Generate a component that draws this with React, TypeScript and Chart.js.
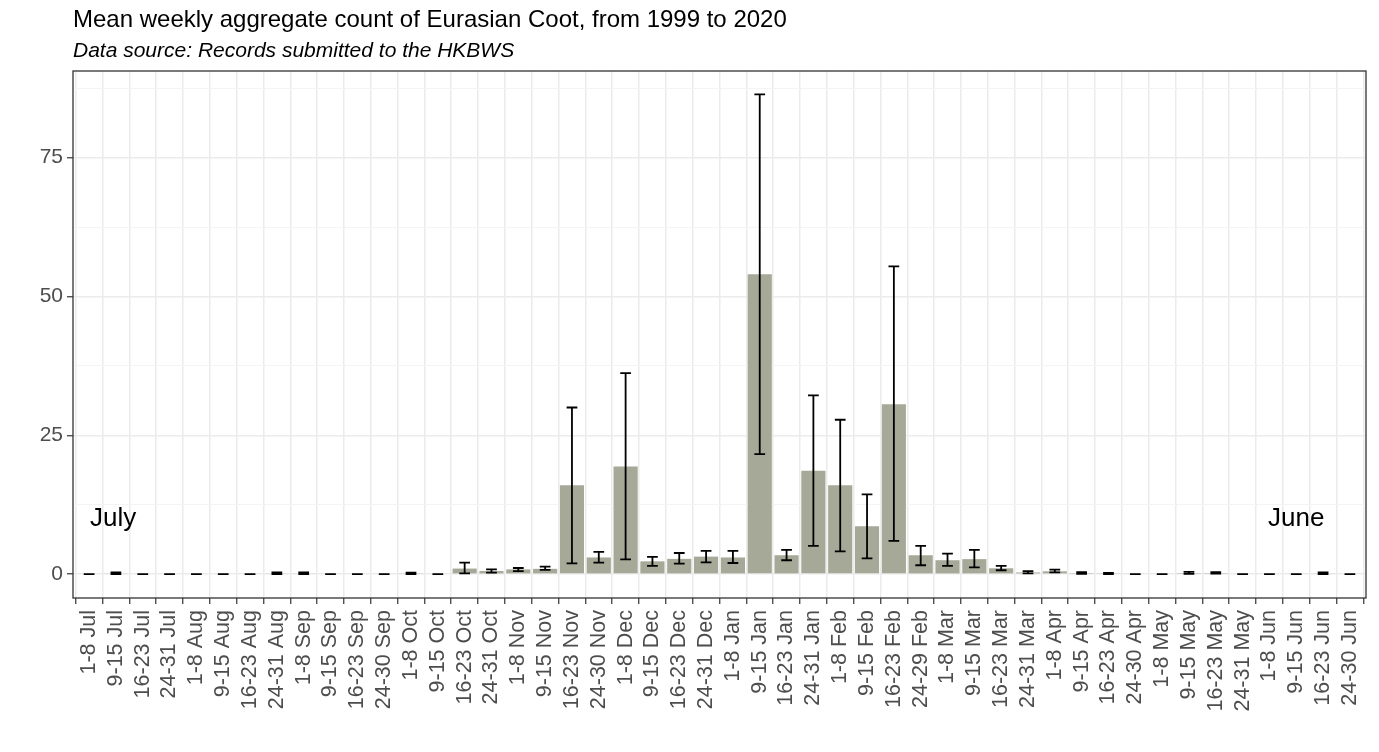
import React, { useEffect, useRef } from "react";
import { Chart, registerables } from "chart.js";

Chart.register(...registerables);

const categories = [
  "1-8 Jul", "9-15 Jul", "16-23 Jul", "24-31 Jul",
  "1-8 Aug", "9-15 Aug", "16-23 Aug", "24-31 Aug",
  "1-8 Sep", "9-15 Sep", "16-23 Sep", "24-30 Sep",
  "1-8 Oct", "9-15 Oct", "16-23 Oct", "24-31 Oct",
  "1-8 Nov", "9-15 Nov", "16-23 Nov", "24-30 Nov",
  "1-8 Dec", "9-15 Dec", "16-23 Dec", "24-31 Dec",
  "1-8 Jan", "9-15 Jan", "16-23 Jan", "24-31 Jan",
  "1-8 Feb", "9-15 Feb", "16-23 Feb", "24-29 Feb",
  "1-8 Mar", "9-15 Mar", "16-23 Mar", "24-31 Mar",
  "1-8 Apr", "9-15 Apr", "16-23 Apr", "24-30 Apr",
  "1-8 May", "9-15 May", "16-23 May", "24-31 May",
  "1-8 Jun", "9-15 Jun", "16-23 Jun", "24-30 Jun",
];

const means = [
  0, 0.15, 0, 0,
  0, 0, 0, 0.15,
  0.15, 0, 0, 0,
  0.1, 0, 1.0, 0.55,
  0.85, 0.95, 16.0, 3.0,
  19.4, 2.3, 2.75, 3.15,
  3.0, 54.0, 3.4, 18.6,
  16.0, 8.6, 30.6, 3.4,
  2.5, 2.7, 1.05, 0.3,
  0.5, 0.2, 0.1, 0,
  0, 0.2, 0.2, 0,
  0, 0, 0.15, 0,
];

const lowers = [
  0, 0, 0, 0,
  0, 0, 0, 0,
  0, 0, 0, 0,
  0, 0, 0.15, 0.27,
  0.55, 0.75, 1.95, 2.07,
  2.67, 1.47, 1.9, 2.1,
  2.0, 21.6, 2.5, 5.1,
  4.1, 2.85, 5.97, 1.6,
  1.47, 1.2, 0.7, 0.15,
  0.3, 0.05, 0, 0,
  0, 0.05, 0.1, 0,
  0, 0, 0.02, 0,
];

const uppers = [
  0, 0.3, 0, 0,
  0, 0, 0, 0.3,
  0.3, 0, 0, 0,
  0.25, 0, 2.07, 0.87,
  1.1, 1.35, 30.0, 4.0,
  36.2, 3.1, 3.8, 4.17,
  4.17, 86.4, 4.35, 32.2,
  27.8, 14.35, 55.4, 5.1,
  3.7, 4.35, 1.47, 0.55,
  0.8, 0.35, 0.2, 0,
  0, 0.4, 0.35, 0,
  0, 0, 0.3, 0,
];

const yMajorTicks = [0, 25, 50, 75];
const yMinorTicks = [12.5, 37.5, 62.5, 87.5];

const noteTexts = ["July", "June"];
const noteX = [0.9, 45];
const noteY = [10, 10];

const titleText = "Mean weekly aggregate count of Eurasian Coot, from 1999 to 2020";
const subtitleText = "Data source: Records submitted to the HKBWS";

const FONT = '"Liberation Sans", Arial, Helvetica, sans-serif';

export default function App() {
  const ref = useRef<HTMLCanvasElement>(null);

  useEffect(() => {
    const canvas = ref.current;
    if (!canvas) return;

    const errorBars = {
      id: "errorBars",
      afterDatasetsDraw(chart: any) {
        const { ctx } = chart;
        const xs = chart.scales.x;
        const ys = chart.scales.y;
        const step = xs.getPixelForValue(1) - xs.getPixelForValue(0);
        const half = step * 0.2;
        ctx.save();
        ctx.strokeStyle = "#000000";
        ctx.lineWidth = 1.8;
        ctx.lineCap = "butt";
        means.forEach((_, i) => {
          const px = xs.getPixelForValue(i);
          const lo = ys.getPixelForValue(lowers[i]);
          const hi = ys.getPixelForValue(uppers[i]);
          ctx.beginPath();
          ctx.moveTo(px, lo);
          ctx.lineTo(px, hi);
          ctx.moveTo(px - half, lo);
          ctx.lineTo(px + half, lo);
          ctx.moveTo(px - half, hi);
          ctx.lineTo(px + half, hi);
          ctx.stroke();
        });
        ctx.restore();
      },
    };

    const frame = {
      id: "frame",
      beforeDraw(chart: any) {
        const { ctx } = chart;
        ctx.save();
        ctx.fillStyle = "#ffffff";
        ctx.fillRect(0, 0, chart.width, chart.height);
        ctx.restore();
      },
      afterDraw(chart: any) {
        const { ctx, chartArea } = chart;
        const xs = chart.scales.x;
        const ys = chart.scales.y;
        ctx.save();
        ctx.strokeStyle = "#333333";
        ctx.lineWidth = 1.3;
        ctx.strokeRect(
          chartArea.left,
          chartArea.top,
          chartArea.right - chartArea.left,
          chartArea.bottom - chartArea.top
        );
        ctx.fillStyle = "#000000";
        ctx.textAlign = "left";
        ctx.textBaseline = "alphabetic";
        ctx.font = `24px ${FONT}`;
        ctx.fillText(titleText, chartArea.left, 27);
        ctx.font = `italic 21px ${FONT}`;
        ctx.fillText(subtitleText, chartArea.left, 57);
        ctx.font = `26px ${FONT}`;
        ctx.textAlign = "center";
        ctx.textBaseline = "middle";
        noteTexts.forEach((t, i) => {
          ctx.fillText(t, xs.getPixelForValue(noteX[i]), ys.getPixelForValue(noteY[i]));
        });
        ctx.restore();
      },
    };

    const chart = new Chart(canvas, {
      type: "bar",
      data: {
        datasets: [
          {
            data: means.map((v, i) => ({ x: i, y: v })),
            backgroundColor: "#A6A898",
            borderWidth: 0,
            barPercentage: 0.9,
            categoryPercentage: 1,
          },
        ],
      },
      options: {
        animation: false,
        responsive: false,
        layout: {
          padding: { top: 71, right: 13, left: 0, bottom: 0 },
          autoPadding: false,
        },
        plugins: {
          legend: { display: false },
          tooltip: { enabled: false },
          title: { display: false },
        },
        scales: {
          x: {
            type: "linear",
            min: -0.6,
            max: 47.6,
            bounds: "data",
            offset: false,
            afterBuildTicks: (s: any) => {
              s.ticks = categories.map((_, i) => ({ value: i }));
            },
            afterFit: (s: any) => {
              s.height = 154;
              s.paddingLeft = 0;
              s.paddingRight = 0;
            },
            ticks: {
              autoSkip: false,
              minRotation: 90,
              maxRotation: 90,
              padding: 6,
              color: "#4D4D4D",
              font: { family: FONT, size: 21.5 },
              callback: (v: any) => categories[Math.round(Number(v))] ?? "",
            },
            grid: {
              color: "#EBEBEB",
              lineWidth: 1.5,
              tickColor: "#333333",
              tickLength: 6,
              tickWidth: 1.2,
            },
            border: { display: false },
          },
          y: {
            type: "linear",
            min: -4.3,
            max: 90.6,
            bounds: "data",
            afterBuildTicks: (s: any) => {
              s.ticks = [...yMajorTicks, ...yMinorTicks]
                .sort((a, b) => a - b)
                .map((v) => ({ value: v }));
            },
            afterFit: (s: any) => {
              s.width = 73;
              s.paddingTop = 0;
              s.paddingBottom = 0;
            },
            ticks: {
              padding: 4,
              color: "#4D4D4D",
              font: { family: FONT, size: 21 },
              callback: (v: any) => (yMajorTicks.includes(Number(v)) ? String(v) : ""),
            },
            grid: {
              color: (c: any) =>
                c.tick && yMajorTicks.includes(c.tick.value) ? "#EBEBEB" : "#F4F4F4",
              lineWidth: (c: any) =>
                c.tick && yMajorTicks.includes(c.tick.value) ? 1.5 : 1,
              tickColor: (c: any) =>
                c.tick && yMajorTicks.includes(c.tick.value) ? "#333333" : "rgba(0,0,0,0)",
              tickLength: 6,
              tickWidth: 1.2,
            },
            border: { display: false },
          },
        },
      },
      plugins: [errorBars, frame],
    } as any);

    return () => chart.destroy();
  }, []);

  return (
    <div style={{ position: "absolute", left: 0, top: 0, width: 1379, height: 752 }}>
      <canvas ref={ref} width={1379} height={752} style={{ display: "block" }} />
    </div>
  );
}
